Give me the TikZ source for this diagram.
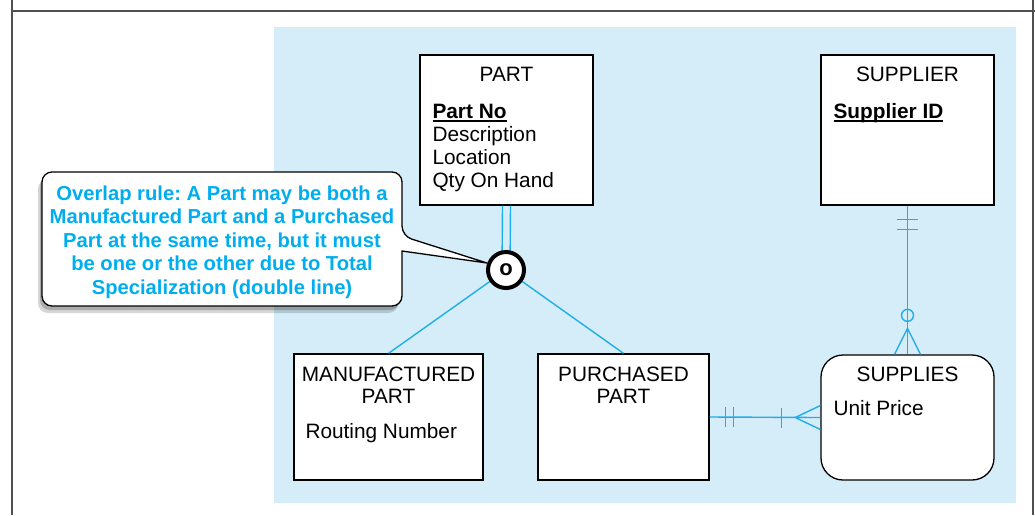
\documentclass[tikz,border=0pt]{standalone}
\usepackage{fontspec}
\setmainfont{Liberation Sans}
\usetikzlibrary{calc}
\definecolor{bgblue}{HTML}{D5ECF9}
\definecolor{erblue}{HTML}{1EAEE8}
\definecolor{calltext}{HTML}{00AEEF}
\definecolor{framegray}{HTML}{505050}
\frenchspacing
\newcommand\keyattr[1]{\setbox0\hbox{\bfseries #1}\rlap{\rule[-3.2pt]{\wd0}{1.7pt}}\box0}
\begin{document}
\begin{tikzpicture}[x=1pt,y=-1pt,
  entity/.style={draw=black, line width=1.3pt, fill=white, inner sep=0pt},
  lbl/.style={font=\fontsize{20.8}{23}\selectfont, inner sep=0pt},
  erline/.style={draw=erblue, line width=1.4pt},
  callbox/.style={draw=black, line width=1.3pt, fill=white},
  calltxt/.style={font=\bfseries\fontsize{20.2}{23.5}\selectfont, text=calltext, align=center, inner sep=0pt}]
\useasboundingbox (0,0) rectangle (1035,515);
\fill[white] (0,0) rectangle (1035,515);
% frame
\draw[framegray, line width=2pt] (12,0) -- (12,515);
\draw[framegray, line width=2pt] (12,11) -- (1035,11);
\draw[framegray, line width=1.4pt] (1033,0) -- (1033,515);
% background
\fill[bgblue] (274,27) rectangle (1016,503);

% entities
\node[entity, minimum width=173, minimum height=150] (part) at (506.5,130) {};
\node[entity, minimum width=173, minimum height=150] (supplier) at (907.5,130) {};
\node[entity, minimum width=189, minimum height=126] (mpart) at (388.5,417) {};
\node[entity, minimum width=171, minimum height=126] (ppart) at (623.5,417) {};
\node[entity, rounded corners=22, minimum width=173, minimum height=125] (supplies) at (907.5,417.5) {};

% texts
\node[lbl, anchor=base] (partT) at ($(part.north)+(0,27)$) {PART};
\node[lbl, anchor=base west] (partA1) at ($(part.north west)+(13,64)$) {\keyattr{Part No}};
\node[lbl, anchor=base west] (partA2) at ($(part.north west)+(13,87)$) {Description};
\node[lbl, anchor=base west] (partA3) at ($(part.north west)+(13,110)$) {Location};
\node[lbl, anchor=base west] (partA4) at ($(part.north west)+(13,133)$) {Qty On Hand};

\node[lbl, anchor=base] (supT) at ($(supplier.north)+(0,27)$) {SUPPLIER};
\node[lbl, anchor=base west] (supA1) at ($(supplier.north west)+(13,64)$) {\keyattr{Supplier ID}};

\node[lbl, anchor=base] (mpT1) at ($(mpart.north)+(0,28)$) {MANUFACTURED};
\node[lbl, anchor=base] (mpT2) at ($(mpart.north)+(0,50)$) {PART};
\node[lbl, anchor=base west] (mpA1) at ($(mpart.north west)+(12,85)$) {Routing Number};

\node[lbl, anchor=base] (ppT1) at ($(ppart.north)+(0,28)$) {PURCHASED};
\node[lbl, anchor=base] (ppT2) at ($(ppart.north)+(0,50)$) {PART};

\node[lbl, anchor=base] (spT) at ($(supplies.north)+(0,27)$) {SUPPLIES};
\node[lbl, anchor=base west] (spA1) at ($(supplies.north west)+(13,61)$) {Unit Price};

% subtype connectors
\coordinate (circC) at (506,270);
\draw[erline] ($(part.south)+(-4,0)$) -- ($(circC)+(-4,0)$);
\draw[erline] ($(part.south)+(4,0)$) -- ($(circC)+(4,0)$);
\draw[erline] (circC) -- (mpart.north);
\draw[erline] (circC) -- (ppart.north);

% purchased part -- supplies
\draw[erline] (ppart.east) -- (supplies.west);
\draw[erline] ($(ppart.east)+(16,-10)$) -- ++(0,20);
\draw[erline] ($(ppart.east)+(24,-10)$) -- ++(0,20);
\draw[erline] ($(supplies.west)+(-39,-10)$) -- ++(0,20);
\draw[erline] ($(supplies.west)+(0,-12)$) -- ($(supplies.west)+(-25,0)$) -- ($(supplies.west)+(0,12)$);

% supplier -- supplies
\draw[erline] (supplier.south) -- (supplies.north);
\draw[erline] ($(supplier.south)+(-10.5,14)$) -- ++(21,0);
\draw[erline] ($(supplier.south)+(-10.5,24)$) -- ++(21,0);
\draw[erline] ($(supplies.north)+(0,-39)$) circle (6pt);
\draw[erline] ($(supplies.north)+(-13,0)$) -- ($(supplies.north)+(0,-26)$) -- ($(supplies.north)+(13,0)$);

% callout
\coordinate (tip) at ($(circC)+(-19,-7)$);
\begin{scope}[shift={(-4,7)}]
\fill[black, opacity=0.16, rounded corners=10] (42,239) -- (42,172) -- (402,172) -- (402,236) -- (402,251) -- (402,306) -- (42,306) -- cycle;
\end{scope}
\begin{scope}[shift={(-2,4)}]
\fill[black, opacity=0.2, rounded corners=10] (42,239) -- (42,172) -- (402,172) -- (402,236) -- (402,251) -- (402,306) -- (42,306) -- cycle;
\end{scope}
\draw[callbox, rounded corners=10] (42,239) -- (42,172) -- (402,172) -- (402,236) [sharp corners] -- (tip) -- (402,251) [rounded corners=10] -- (402,306) -- (42,306) -- cycle;
\node[calltxt] (note) at (222,242) {Overlap rule: A Part may be both a\\Manufactured Part and a Purchased\\Part at the same time, but it must\\be one or the other due to Total\\Specialization (double line)};

% subtype circle
\node[circle, draw=black, line width=4pt, fill=white, minimum size=36, inner sep=0pt, font=\bfseries\fontsize{22}{22}\selectfont] (circ) at (circC) {o};
\end{tikzpicture}
\end{document}
